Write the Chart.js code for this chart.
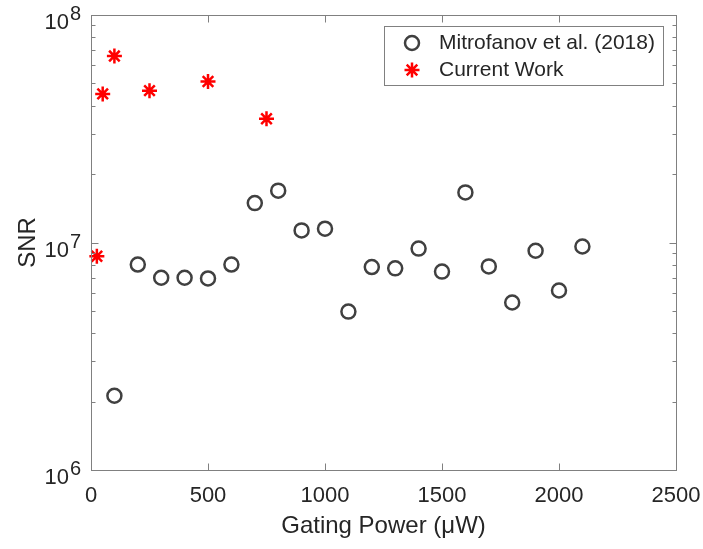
<!DOCTYPE html>
<html>
<head>
<meta charset="utf-8">
<script src="https://cdn.jsdelivr.net/npm/chart.js@4/dist/chart.umd.min.js"></script>
<style>
  body { margin: 0; background: #fff; }
  canvas { display: block; }
</style>
</head>
<body>
<canvas id="myChart" width="703" height="549"></canvas>
<script>
// Mitrofanov et al. (2018) - gating power (uW) vs SNR
const mitroPower = [100, 200, 300, 400, 500, 600, 700, 800, 900, 1000, 1100,
                    1200, 1300, 1400, 1500, 1600, 1700, 1800, 1900, 2000, 2100];
const mitroSNR = [2.12e6, 8.0e6, 7.0e6, 7.0e6, 6.95e6, 8.0e6, 1.49e7, 1.69e7, 1.13e7, 1.15e7, 4.97e6,
                  7.8e6, 7.7e6, 9.4e6, 7.45e6, 1.66e7, 7.85e6, 5.45e6, 9.2e6, 6.15e6, 9.6e6];

// Current work
const currentPower = [25, 50, 100, 250, 500, 750];
const currentSNR = [8.7e6, 4.5e7, 6.6e7, 4.65e7, 5.1e7, 3.5e7];

const xTicks = [0, 500, 1000, 1500, 2000, 2500];
const yDecades = [6, 7, 8];
const seriesNames = ['Mitrofanov et al. (2018)', 'Current Work'];

const FONT = '"Liberation Sans", Arial, Helvetica, sans-serif';
const TEXT = '#262626';
const AXIS = '#808080';

function toPoints(xs, ys) {
    return xs.map((x, i) => ({ x: x, y: ys[i] }));
}

function drawCircle(ctx, x, y) {
    ctx.save();
    ctx.strokeStyle = '#404040';
    ctx.lineWidth = 2.5;
    ctx.beginPath();
    ctx.arc(x, y, 7, 0, Math.PI * 2);
    ctx.stroke();
    ctx.restore();
}

function drawStar(ctx, x, y) {
    const r = 7.5;
    ctx.save();
    ctx.strokeStyle = '#ff0000';
    ctx.lineWidth = 2.5;
    ctx.beginPath();
    for (let k = 0; k < 4; k++) {
        const a = k * Math.PI / 4;
        ctx.moveTo(x - r * Math.cos(a), y - r * Math.sin(a));
        ctx.lineTo(x + r * Math.cos(a), y + r * Math.sin(a));
    }
    ctx.stroke();
    ctx.restore();
}

// box, inside ticks, y labels with superscripts, legend
const matlabAxes = {
    id: 'matlabAxes',
    afterDraw(chart) {
        const ctx = chart.ctx;
        const a = chart.chartArea;
        const xs = chart.scales.x, ys = chart.scales.y;
        const L = Math.round(a.left) + 0.5, R = Math.round(a.right) + 0.5;
        const T = Math.round(a.top) + 0.5, B = Math.round(a.bottom) + 0.5;

        ctx.save();
        ctx.strokeStyle = AXIS;
        ctx.lineWidth = 1;
        ctx.strokeRect(L, T, R - L, B - T);

        ctx.beginPath();
        xTicks.forEach(v => {
            const px = Math.round(xs.getPixelForValue(v)) + 0.5;
            ctx.moveTo(px, B); ctx.lineTo(px, B - 7);
            ctx.moveTo(px, T); ctx.lineTo(px, T + 7);
        });
        yDecades.forEach(d => {
            for (let m = 1; m <= 9; m++) {
                const v = m * Math.pow(10, d);
                if (v > ys.max) break;
                const py = Math.round(ys.getPixelForValue(v)) + 0.5;
                const len = m === 1 ? 7 : 4;
                ctx.moveTo(L, py); ctx.lineTo(L + len, py);
                ctx.moveTo(R, py); ctx.lineTo(R - len, py);
            }
        });
        ctx.stroke();

        // y tick labels 10^n
        ctx.fillStyle = TEXT;
        yDecades.forEach(d => {
            const py = ys.getPixelForValue(Math.pow(10, d));
            ctx.font = '22px ' + FONT;
            ctx.textAlign = 'right';
            ctx.textBaseline = 'alphabetic';
            ctx.fillText('10', 69, py + 14);
            ctx.font = '20px ' + FONT;
            ctx.textAlign = 'left';
            ctx.fillText(String(d), 70, py + 5);
        });

        // legend
        const lx = 384.5, ly = 26.5, lw = 279, lh = 59;
        ctx.fillStyle = '#ffffff';
        ctx.fillRect(lx, ly, lw, lh);
        ctx.strokeStyle = AXIS;
        ctx.strokeRect(lx, ly, lw, lh);
        drawCircle(ctx, 412, 43);
        drawStar(ctx, 412, 70);
        ctx.fillStyle = TEXT;
        ctx.font = '21px ' + FONT;
        ctx.textAlign = 'left';
        ctx.textBaseline = 'middle';
        ctx.fillText(seriesNames[0], 439, 43);
        ctx.fillText(seriesNames[1], 439, 70);
        ctx.restore();
    }
};

const ctx = document.getElementById('myChart').getContext('2d');
const chart = new Chart(ctx, {
    type: 'scatter',
    data: {
        datasets: [
            {
                label: seriesNames[0],
                data: toPoints(mitroPower, mitroSNR),
                pointStyle: 'circle',
                pointRadius: 7,
                borderWidth: 2.5,
                borderColor: '#404040',
                backgroundColor: 'rgba(0,0,0,0)',
                clip: false
            },
            {
                label: seriesNames[1],
                data: toPoints(currentPower, currentSNR),
                pointStyle: 'star',
                pointRadius: 7.5,
                borderWidth: 2.5,
                borderColor: '#ff0000',
                backgroundColor: '#ff0000',
                clip: false
            }
        ]
    },
    options: {
        responsive: false,
        animation: false,
        layout: { padding: { left: 0, right: 27, top: 15, bottom: 0 } },
        plugins: {
            legend: { display: false },
            tooltip: { enabled: false }
        },
        scales: {
            x: {
                type: 'linear',
                position: 'bottom',
                min: 0,
                max: 2500,
                // grid hidden (ticks drawn inside by the plugin); tickLength only spaces the labels
                grid: { display: false, drawTicks: true, tickLength: 13 },
                border: { display: false },
                ticks: {
                    stepSize: 500,
                    padding: 0,
                    color: TEXT,
                    font: { family: FONT, size: 22 },
                    callback: v => String(v)
                },
                title: {
                    display: true,
                    text: 'Gating Power (\u03bcW)',
                    color: TEXT,
                    font: { family: FONT, size: 24 },
                    padding: { top: 2.2, bottom: 8.6 }
                }
            },
            y: {
                type: 'logarithmic',
                min: 1e6,
                max: 1e8,
                grid: { display: false, drawTicks: false },
                border: { display: false },
                ticks: { display: false },
                title: {
                    display: true,
                    text: 'SNR',
                    color: TEXT,
                    font: { family: FONT, size: 24 },
                    padding: { top: 14, bottom: 48.2 }
                }
            }
        }
    },
    plugins: [matlabAxes]
});
</script>
</body>
</html>
